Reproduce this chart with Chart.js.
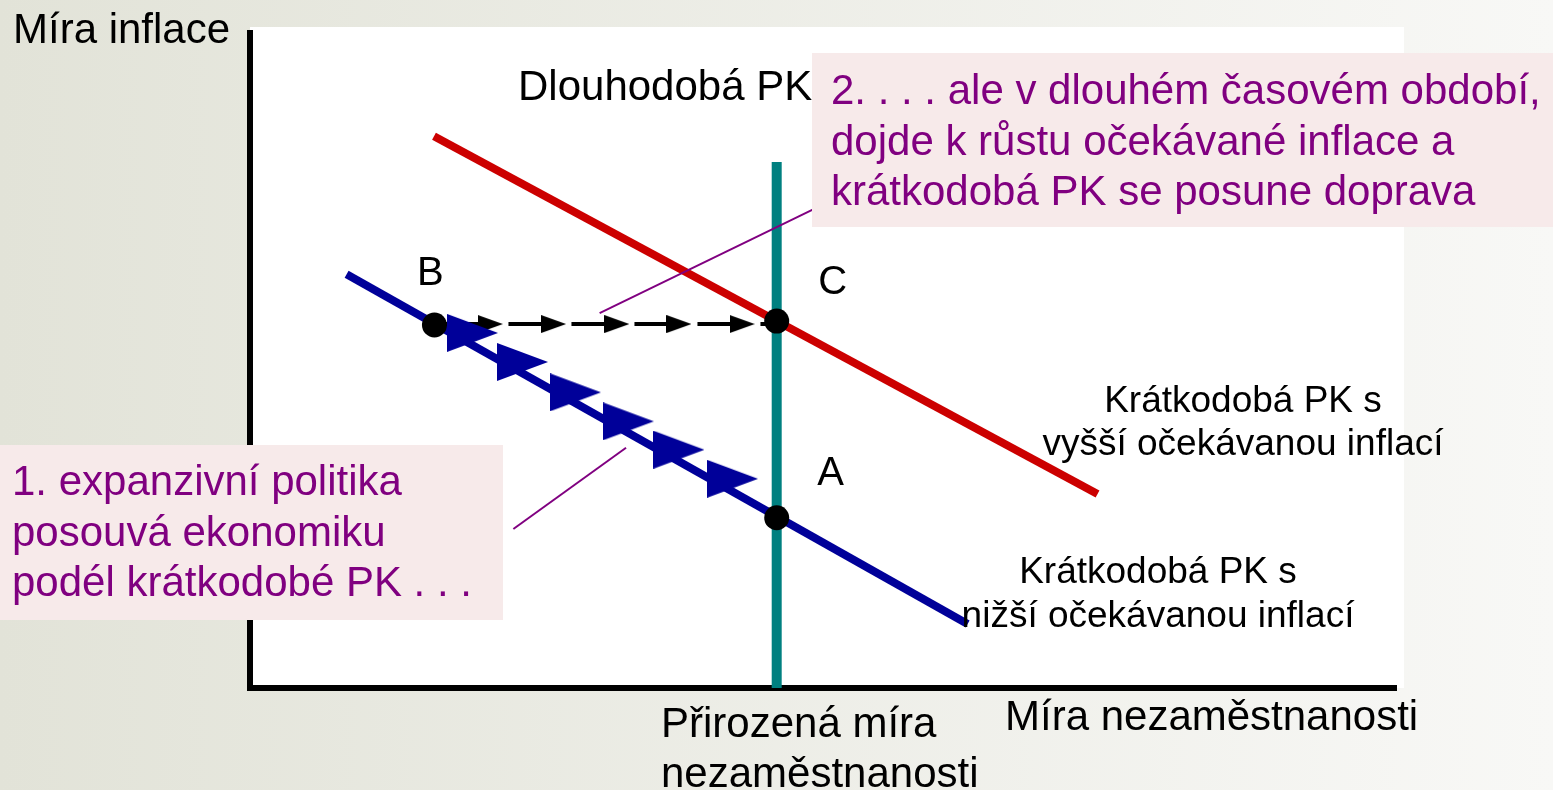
<!DOCTYPE html>
<html lang="cs">
<head>
<meta charset="utf-8">
<title>Phillipsova křivka</title>
<script src="https://cdn.jsdelivr.net/npm/chart.js@4.4.1/dist/chart.umd.min.js"></script>
<style>
  html, body { margin: 0; padding: 0; overflow: hidden; background: #ecece6; }
  canvas { display: block; }
</style>
</head>
<body>
<canvas id="pk" width="1553" height="790"></canvas>
<script>
// osa x = míra nezaměstnanosti, osa y = míra inflace, obě v rozsahu 0–100
var naturalRate = 45.8;
var longRunTop = 79.7;

// krátkodobá PK s nižší očekávanou inflací
var lowPkX = [8.4, 62.4];
var lowPkY = [62.7, 9.7];

// krátkodobá PK s vyšší očekávanou inflací
var highPkX = [16.0, 73.7];
var highPkY = [83.6, 29.4];

var pointNames = ['A', 'B', 'C'];
var pointX = [45.8, 16.04, 45.8];
var pointY = [25.8, 55.0, 55.6];

// šipky po krátkodobé PK z A do B
var moveX = [19.35, 23.7, 28.3, 32.9, 37.3, 41.96];
var moveY = [53.8, 49.4, 44.8, 40.4, 36.1, 31.7];

// šipky z B do C
var shiftX = [20.9, 26.4, 31.9, 37.3, 42.8];
var shiftY = 55.15;

// spojnice popisků 1. a 2.
var note1X = [22.9, 32.7];
var note1Y = [24.1, 36.4];
var note2X = [30.4, 49.2];
var note2Y = [56.8, 72.7];

var FONT = '"Liberation Sans", Arial, sans-serif';
var PURPLE = '#800080';

function xy(xs, ys) {
  return xs.map(function (x, i) { return { x: x, y: Array.isArray(ys) ? ys[i] : ys }; });
}

// trojúhelníková hlavička šipky mířící doprava
function arrowHead(w, h, color) {
  var c = document.createElement('canvas');
  c.width = w;
  c.height = h;
  var g = c.getContext('2d');
  g.fillStyle = color;
  g.beginPath();
  g.moveTo(0, 0);
  g.lineTo(w, h / 2);
  g.lineTo(0, h);
  g.closePath();
  g.fill();
  return c;
}

var blueHead = arrowHead(51, 38, '#000099');
var blackHead = arrowHead(25, 18, '#000000');

function fillLines(ctx, lines, x, y0, step, size, color, align) {
  ctx.font = size + 'px ' + FONT;
  ctx.fillStyle = color;
  ctx.textAlign = align || 'left';
  ctx.textBaseline = 'alphabetic';
  lines.forEach(function (s, i) { ctx.fillText(s, x, y0 + i * step); });
}

var slidePlugin = {
  id: 'slide',
  beforeDraw: function (chart) {
    var ctx = chart.ctx, a = chart.chartArea;
    var grad = ctx.createLinearGradient(0, 0, chart.width, 0);
    grad.addColorStop(0, '#e2e3d8');
    grad.addColorStop(1, '#f8f8f6');
    ctx.save();
    ctx.fillStyle = grad;
    ctx.fillRect(0, 0, chart.width, chart.height);
    ctx.fillStyle = '#ffffff';
    ctx.fillRect(a.left, a.top - 1, a.right + 4 - a.left, a.bottom - a.top + 1);
    ctx.restore();
  },
  beforeDatasetsDraw: function (chart) {
    var ctx = chart.ctx, a = chart.chartArea;
    ctx.save();
    ctx.strokeStyle = '#000000';
    ctx.lineWidth = 6;
    ctx.beginPath();
    ctx.moveTo(a.left, a.top + 2);
    ctx.lineTo(a.left, a.bottom + 3);
    ctx.moveTo(a.left - 3, a.bottom);
    ctx.lineTo(a.right - 3, a.bottom);
    ctx.stroke();
    ctx.restore();
  },
  afterDatasetsDraw: function (chart) {
    var ctx = chart.ctx, xs = chart.scales.x, ys = chart.scales.y;
    ctx.save();

    // popisky bodů
    var off = { A: [54, -33], B: [-4, -40], C: [56, -27] };
    pointNames.forEach(function (n, i) {
      fillLines(ctx, [n], xs.getPixelForValue(pointX[i]) + off[n][0],
        ys.getPixelForValue(pointY[i]) + off[n][1], 0, 40, '#000000', 'center');
    });

    fillLines(ctx, ['Míra inflace'], 13, 43, 0, 42, '#000000');
    fillLines(ctx, ['Dlouhodobá PK'], 518, 100, 0, 42, '#000000');
    fillLines(ctx, ['Přirozená míra', 'nezaměstnanosti'], 661, 737, 50, 42, '#000000');
    fillLines(ctx, ['Míra nezaměstnanosti'], 1005, 730, 0, 42, '#000000');
    fillLines(ctx, ['Krátkodobá PK s', 'vyšší očekávanou inflací'], 1243, 412, 43, 37, '#000000', 'center');
    fillLines(ctx, ['Krátkodobá PK s', 'nižší očekávanou inflací'], 1158, 583, 44, 37, '#000000', 'center');

    // rámečky s komentářem
    ctx.fillStyle = '#f7eaea';
    ctx.fillRect(0, 445, 503, 175);
    ctx.fillRect(812, 53, 741, 174);
    fillLines(ctx, ['1. expanzivní politika', 'posouvá ekonomiku', 'podél krátkodobé PK . . .'],
      12, 495, 50.5, 42, PURPLE);
    fillLines(ctx, ['2. . . . ale v dlouhém časovém období,', 'dojde k růstu očekávané inflace a',
      'krátkodobá PK se posune doprava'], 831, 104, 50.5, 42, PURPLE);
    ctx.restore();
  }
};

new Chart(document.getElementById('pk'), {
  type: 'line',
  data: {
    datasets: [
      {
        // body A, B, C
        data: xy(pointX, pointY),
        showLine: false,
        pointRadius: 12.5,
        pointBackgroundColor: '#000000',
        pointBorderWidth: 0,
        order: 1
      },
      {
        data: xy(moveX, moveY),
        showLine: false,
        pointStyle: blueHead,
        pointRadius: 5,
        order: 0
      },
      {
        data: xy(shiftX, shiftY),
        showLine: false,
        pointStyle: blackHead,
        pointRadius: 5,
        order: 2
      },
      {
        data: [{ x: pointX[1], y: shiftY }, { x: pointX[2], y: shiftY }],
        borderColor: '#000000',
        borderWidth: 4,
        borderDash: [45, 18],
        borderDashOffset: 52,
        pointRadius: 0,
        order: 3
      },
      {
        data: xy(note1X, note1Y),
        borderColor: PURPLE,
        borderWidth: 2,
        pointRadius: 0,
        order: 4
      },
      {
        data: xy(note2X, note2Y),
        borderColor: PURPLE,
        borderWidth: 2,
        pointRadius: 0,
        order: 4
      },
      {
        data: xy(lowPkX, lowPkY),
        borderColor: '#000099',
        borderWidth: 8,
        pointRadius: 0,
        order: 5
      },
      {
        data: xy(highPkX, highPkY),
        borderColor: '#cc0000',
        borderWidth: 8,
        pointRadius: 0,
        order: 6
      },
      {
        data: [{ x: naturalRate, y: 0 }, { x: naturalRate, y: longRunTop }],
        borderColor: '#008080',
        borderWidth: 10,
        pointRadius: 0,
        order: 7
      }
    ]
  },
  options: {
    responsive: false,
    animation: false,
    events: [],
    layout: { padding: { left: 250, right: 153, top: 28, bottom: 102 } },
    scales: {
      x: { type: 'linear', min: 0, max: 100, display: false },
      y: { type: 'linear', min: 0, max: 100, display: false }
    },
    plugins: {
      legend: { display: false },
      tooltip: { enabled: false }
    }
  },
  plugins: [slidePlugin]
});
</script>
</body>
</html>
